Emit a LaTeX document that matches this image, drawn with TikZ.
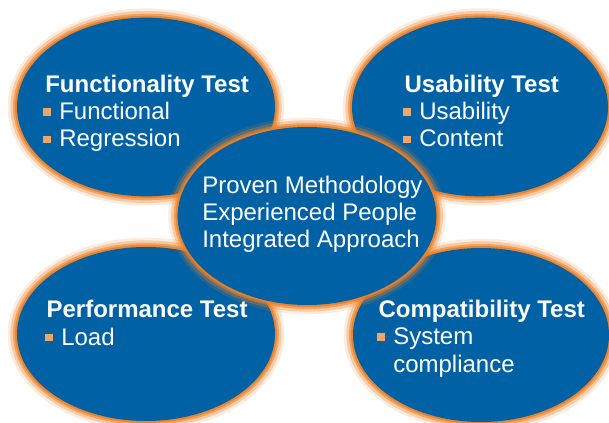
\documentclass[tikz,border=0pt]{standalone}
\usepackage{fontspec}
\setmainfont{Liberation Sans}
\usetikzlibrary{shapes.geometric}
\definecolor{ovalblue}{RGB}{0,98,165}
\definecolor{gloworange}{RGB}{236,128,38}
\definecolor{bulletorange}{RGB}{242,165,105}
\newcommand\blt{\makebox[12pt][l]{\raisebox{3pt}{\color{bulletorange}\rule{5.5pt}{5.5pt}}}}

\begin{document}
\begin{tikzpicture}[x=0.75pt, y=-0.75pt,
  oval/.style={ellipse, inner sep=0pt, fill=ovalblue,
    preaction={draw=gloworange, line width=14pt, opacity=0.15},
    preaction={draw=gloworange, line width=10pt, opacity=0.3},
    preaction={draw=gloworange, line width=6pt, opacity=0.55},
    preaction={draw=gloworange, line width=3pt, opacity=0.9}},
  words/.style={anchor=base west, align=left, text=white, inner sep=0pt,
    font=\fontsize{18}{20.5}\selectfont}]

\useasboundingbox (0,0) rectangle (609,423);

\node[oval, minimum width=193.5pt, minimum height=134pt] (functionality) at (146,107) {};
\node[oval, minimum width=192pt, minimum height=134pt] (usability) at (480,107) {};
\node[oval, minimum width=193.5pt, minimum height=130.5pt] (performance) at (146,334) {};
\node[oval, minimum width=192pt, minimum height=130.5pt] (compatibility) at (481,335) {};
\node[oval, minimum width=194pt, minimum height=133.5pt] (core) at (307,216) {};

% anchor base = baseline of the last line
\node[words] (functionalitytext) at (43,147)
  {\kern1.5pt\textbf{Functionality Test}\\ \blt Functional\\ \blt Regression};
\node[words] (usabilitytext) at (403,147)
  {\kern1pt\textbf{Usability Test}\\ \blt Usability\\ \blt Content};
\node[words] (performancetext) at (45,345)
  {\kern1pt\textbf{Performance Test}\\ \blt Load};
\node[words] (compatibilitytext) at (377,372)
  {\kern1pt\textbf{Compatibility Test}\\ \blt System\\ \hphantom{\blt}compliance};
\node[words] (coretext) at (202,248)
  {Proven Methodology\\ Experienced People\\ Integrated Approach};

\end{tikzpicture}
\end{document}
